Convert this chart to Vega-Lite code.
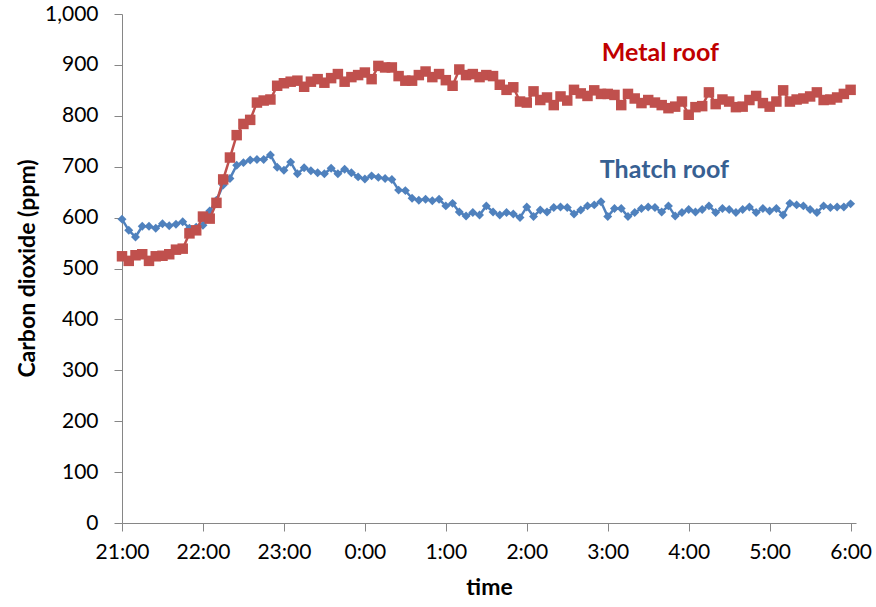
{
  "$schema": "https://vega.github.io/schema/vega-lite/v6.json",
  "width": 734,
  "height": 509,
  "autosize": {"type": "none"},
  "padding": {"left": 122, "top": 14, "right": 20, "bottom": 84},
  "background": "white",
  "config": {
    "view": {"stroke": null},
    "axis": {"grid": false, "domainColor": "#868686", "tickColor": "#868686", "tickSize": 8, "labelFont": "Lato", "labelFontSize": 21, "labelColor": "#000000", "titleFont": "Lato", "titleFontSize": 23, "titleFontWeight": "bold", "titleColor": "#000000"}
  },
  "datasets": {
    "co2": [
      {"t": "2000-01-01T21:00:00Z", "thatch": 597, "metal": 524},
      {"t": "2000-01-01T21:05:00Z", "thatch": 575, "metal": 515},
      {"t": "2000-01-01T21:10:00Z", "thatch": 562, "metal": 526},
      {"t": "2000-01-01T21:15:00Z", "thatch": 583, "metal": 528},
      {"t": "2000-01-01T21:20:00Z", "thatch": 583, "metal": 515},
      {"t": "2000-01-01T21:25:00Z", "thatch": 579, "metal": 524},
      {"t": "2000-01-01T21:30:00Z", "thatch": 588, "metal": 525},
      {"t": "2000-01-01T21:35:00Z", "thatch": 584, "metal": 528},
      {"t": "2000-01-01T21:40:00Z", "thatch": 587, "metal": 537},
      {"t": "2000-01-01T21:45:00Z", "thatch": 592, "metal": 539},
      {"t": "2000-01-01T21:50:00Z", "thatch": 579, "metal": 569},
      {"t": "2000-01-01T21:55:00Z", "thatch": 581, "metal": 575},
      {"t": "2000-01-01T22:00:00Z", "thatch": 585, "metal": 602},
      {"t": "2000-01-01T22:05:00Z", "thatch": 613, "metal": 598},
      {"t": "2000-01-01T22:10:00Z", "thatch": 634, "metal": 629},
      {"t": "2000-01-01T22:15:00Z", "thatch": 664, "metal": 675},
      {"t": "2000-01-01T22:20:00Z", "thatch": 677, "metal": 718},
      {"t": "2000-01-01T22:25:00Z", "thatch": 703, "metal": 762},
      {"t": "2000-01-01T22:30:00Z", "thatch": 708, "metal": 784},
      {"t": "2000-01-01T22:35:00Z", "thatch": 713, "metal": 792},
      {"t": "2000-01-01T22:40:00Z", "thatch": 714, "metal": 826},
      {"t": "2000-01-01T22:45:00Z", "thatch": 714, "metal": 830},
      {"t": "2000-01-01T22:50:00Z", "thatch": 723, "metal": 832},
      {"t": "2000-01-01T22:55:00Z", "thatch": 699, "metal": 859},
      {"t": "2000-01-01T23:00:00Z", "thatch": 693, "metal": 864},
      {"t": "2000-01-01T23:05:00Z", "thatch": 709, "metal": 867},
      {"t": "2000-01-01T23:10:00Z", "thatch": 686, "metal": 869},
      {"t": "2000-01-01T23:15:00Z", "thatch": 698, "metal": 857},
      {"t": "2000-01-01T23:20:00Z", "thatch": 692, "metal": 867},
      {"t": "2000-01-01T23:25:00Z", "thatch": 688, "metal": 872},
      {"t": "2000-01-01T23:30:00Z", "thatch": 686, "metal": 865},
      {"t": "2000-01-01T23:35:00Z", "thatch": 697, "metal": 874},
      {"t": "2000-01-01T23:40:00Z", "thatch": 686, "metal": 882},
      {"t": "2000-01-01T23:45:00Z", "thatch": 695, "metal": 867},
      {"t": "2000-01-01T23:50:00Z", "thatch": 688, "metal": 876},
      {"t": "2000-01-01T23:55:00Z", "thatch": 680, "metal": 880},
      {"t": "2000-01-02T00:00:00Z", "thatch": 676, "metal": 885},
      {"t": "2000-01-02T00:05:00Z", "thatch": 682, "metal": 872},
      {"t": "2000-01-02T00:10:00Z", "thatch": 679, "metal": 898},
      {"t": "2000-01-02T00:15:00Z", "thatch": 677, "metal": 895},
      {"t": "2000-01-02T00:20:00Z", "thatch": 675, "metal": 895},
      {"t": "2000-01-02T00:25:00Z", "thatch": 654, "metal": 878},
      {"t": "2000-01-02T00:30:00Z", "thatch": 653, "metal": 869},
      {"t": "2000-01-02T00:35:00Z", "thatch": 638, "metal": 869},
      {"t": "2000-01-02T00:40:00Z", "thatch": 634, "metal": 880},
      {"t": "2000-01-02T00:45:00Z", "thatch": 636, "metal": 887},
      {"t": "2000-01-02T00:50:00Z", "thatch": 633, "metal": 876},
      {"t": "2000-01-02T00:55:00Z", "thatch": 636, "metal": 882},
      {"t": "2000-01-02T01:00:00Z", "thatch": 623, "metal": 870},
      {"t": "2000-01-02T01:05:00Z", "thatch": 628, "metal": 859},
      {"t": "2000-01-02T01:10:00Z", "thatch": 611, "metal": 891},
      {"t": "2000-01-02T01:15:00Z", "thatch": 603, "metal": 880},
      {"t": "2000-01-02T01:20:00Z", "thatch": 610, "metal": 882},
      {"t": "2000-01-02T01:25:00Z", "thatch": 605, "metal": 876},
      {"t": "2000-01-02T01:30:00Z", "thatch": 623, "metal": 880},
      {"t": "2000-01-02T01:35:00Z", "thatch": 611, "metal": 878},
      {"t": "2000-01-02T01:40:00Z", "thatch": 605, "metal": 861},
      {"t": "2000-01-02T01:45:00Z", "thatch": 610, "metal": 851},
      {"t": "2000-01-02T01:50:00Z", "thatch": 607, "metal": 856},
      {"t": "2000-01-02T01:55:00Z", "thatch": 600, "metal": 828},
      {"t": "2000-01-02T02:00:00Z", "thatch": 621, "metal": 826},
      {"t": "2000-01-02T02:05:00Z", "thatch": 602, "metal": 848},
      {"t": "2000-01-02T02:10:00Z", "thatch": 615, "metal": 831},
      {"t": "2000-01-02T02:15:00Z", "thatch": 611, "metal": 836},
      {"t": "2000-01-02T02:20:00Z", "thatch": 620, "metal": 821},
      {"t": "2000-01-02T02:25:00Z", "thatch": 621, "metal": 838},
      {"t": "2000-01-02T02:30:00Z", "thatch": 620, "metal": 830},
      {"t": "2000-01-02T02:35:00Z", "thatch": 607, "metal": 851},
      {"t": "2000-01-02T02:40:00Z", "thatch": 615, "metal": 844},
      {"t": "2000-01-02T02:45:00Z", "thatch": 623, "metal": 839},
      {"t": "2000-01-02T02:50:00Z", "thatch": 625, "metal": 850},
      {"t": "2000-01-02T02:55:00Z", "thatch": 631, "metal": 843},
      {"t": "2000-01-02T03:00:00Z", "thatch": 602, "metal": 843},
      {"t": "2000-01-02T03:05:00Z", "thatch": 618, "metal": 841},
      {"t": "2000-01-02T03:10:00Z", "thatch": 618, "metal": 821},
      {"t": "2000-01-02T03:15:00Z", "thatch": 602, "metal": 843},
      {"t": "2000-01-02T03:20:00Z", "thatch": 610, "metal": 834},
      {"t": "2000-01-02T03:25:00Z", "thatch": 618, "metal": 825},
      {"t": "2000-01-02T03:30:00Z", "thatch": 621, "metal": 831},
      {"t": "2000-01-02T03:35:00Z", "thatch": 620, "metal": 826},
      {"t": "2000-01-02T03:40:00Z", "thatch": 611, "metal": 821},
      {"t": "2000-01-02T03:45:00Z", "thatch": 623, "metal": 815},
      {"t": "2000-01-02T03:50:00Z", "thatch": 603, "metal": 818},
      {"t": "2000-01-02T03:55:00Z", "thatch": 610, "metal": 828},
      {"t": "2000-01-02T04:00:00Z", "thatch": 616, "metal": 802},
      {"t": "2000-01-02T04:05:00Z", "thatch": 611, "metal": 817},
      {"t": "2000-01-02T04:10:00Z", "thatch": 616, "metal": 819},
      {"t": "2000-01-02T04:15:00Z", "thatch": 623, "metal": 846},
      {"t": "2000-01-02T04:20:00Z", "thatch": 610, "metal": 823},
      {"t": "2000-01-02T04:25:00Z", "thatch": 618, "metal": 832},
      {"t": "2000-01-02T04:30:00Z", "thatch": 616, "metal": 828},
      {"t": "2000-01-02T04:35:00Z", "thatch": 610, "metal": 817},
      {"t": "2000-01-02T04:40:00Z", "thatch": 616, "metal": 818},
      {"t": "2000-01-02T04:45:00Z", "thatch": 621, "metal": 831},
      {"t": "2000-01-02T04:50:00Z", "thatch": 610, "metal": 839},
      {"t": "2000-01-02T04:55:00Z", "thatch": 618, "metal": 825},
      {"t": "2000-01-02T05:00:00Z", "thatch": 613, "metal": 818},
      {"t": "2000-01-02T05:05:00Z", "thatch": 618, "metal": 828},
      {"t": "2000-01-02T05:10:00Z", "thatch": 605, "metal": 850},
      {"t": "2000-01-02T05:15:00Z", "thatch": 628, "metal": 828},
      {"t": "2000-01-02T05:20:00Z", "thatch": 625, "metal": 832},
      {"t": "2000-01-02T05:25:00Z", "thatch": 623, "metal": 834},
      {"t": "2000-01-02T05:30:00Z", "thatch": 616, "metal": 838},
      {"t": "2000-01-02T05:35:00Z", "thatch": 610, "metal": 846},
      {"t": "2000-01-02T05:40:00Z", "thatch": 623, "metal": 831},
      {"t": "2000-01-02T05:45:00Z", "thatch": 620, "metal": 832},
      {"t": "2000-01-02T05:50:00Z", "thatch": 621, "metal": 836},
      {"t": "2000-01-02T05:55:00Z", "thatch": 621, "metal": 843},
      {"t": "2000-01-02T06:00:00Z", "thatch": 627, "metal": 851}
    ],
    "labels": [
      {"series": "Metal roof", "t": "2000-01-02T03:39:00Z", "v": 924},
      {"series": "Thatch roof", "t": "2000-01-02T03:42:00Z", "v": 694}
    ]
  },
  "layer": [
    {
      "data": {"name": "co2"},
      "mark": {"type": "line", "color": "#4F81BD", "strokeWidth": 2.5, "point": {"shape": "diamond", "size": 80, "filled": true, "color": "#4F81BD", "opacity": 1}},
      "encoding": {
        "x": {
          "field": "t", "type": "temporal", "title": "time",
          "scale": {"type": "utc", "domain": [{"year": 2000, "month": 1, "date": 1, "hours": 21, "utc": true}, {"year": 2000, "month": 1, "date": 2, "hours": 6, "minutes": 4, "utc": true}]},
          "axis": {
            "format": "%-H:%M", "labelPadding": 10, "labelFlush": false, "labelOverlap": false, "titlePadding": 14,
            "values": [
              {"year": 2000, "month": 1, "date": 1, "hours": 21, "utc": true},
              {"year": 2000, "month": 1, "date": 1, "hours": 22, "utc": true},
              {"year": 2000, "month": 1, "date": 1, "hours": 23, "utc": true},
              {"year": 2000, "month": 1, "date": 2, "hours": 0, "utc": true},
              {"year": 2000, "month": 1, "date": 2, "hours": 1, "utc": true},
              {"year": 2000, "month": 1, "date": 2, "hours": 2, "utc": true},
              {"year": 2000, "month": 1, "date": 2, "hours": 3, "utc": true},
              {"year": 2000, "month": 1, "date": 2, "hours": 4, "utc": true},
              {"year": 2000, "month": 1, "date": 2, "hours": 5, "utc": true},
              {"year": 2000, "month": 1, "date": 2, "hours": 6, "utc": true}
            ]
          }
        },
        "y": {
          "field": "thatch", "type": "quantitative", "title": "Carbon dioxide (ppm)",
          "scale": {"domain": [0, 1000], "nice": false, "zero": true},
          "axis": {"values": [0, 100, 200, 300, 400, 500, 600, 700, 800, 900, 1000], "format": ",d", "labelPadding": 16, "titleBaseline": "middle", "titleX": -95, "titleY": 254, "titleAngle": 270}
        }
      }
    },
    {
      "data": {"name": "co2"},
      "mark": {"type": "line", "color": "#C0504D", "strokeWidth": 2.5, "point": {"shape": "square", "size": 110, "filled": true, "color": "#C0504D", "opacity": 1}},
      "encoding": {
        "x": {"field": "t", "type": "temporal", "title": "time"},
        "y": {"field": "metal", "type": "quantitative", "title": "Carbon dioxide (ppm)"}
      }
    },
    {
      "data": {"name": "labels"},
      "transform": [{"filter": "datum.series === 'Metal roof'"}],
      "mark": {"type": "text", "font": "Lato", "fontSize": 25, "fontWeight": "bold", "color": "#C00000", "align": "center", "baseline": "middle"},
      "encoding": {
        "x": {"field": "t", "type": "temporal", "title": "time"},
        "y": {"field": "v", "type": "quantitative", "title": "Carbon dioxide (ppm)"},
        "text": {"field": "series"}
      }
    },
    {
      "data": {"name": "labels"},
      "transform": [{"filter": "datum.series === 'Thatch roof'"}],
      "mark": {"type": "text", "font": "Lato", "fontSize": 25, "fontWeight": "bold", "color": "#376092", "align": "center", "baseline": "middle"},
      "encoding": {
        "x": {"field": "t", "type": "temporal", "title": "time"},
        "y": {"field": "v", "type": "quantitative", "title": "Carbon dioxide (ppm)"},
        "text": {"field": "series"}
      }
    }
  ]
}
